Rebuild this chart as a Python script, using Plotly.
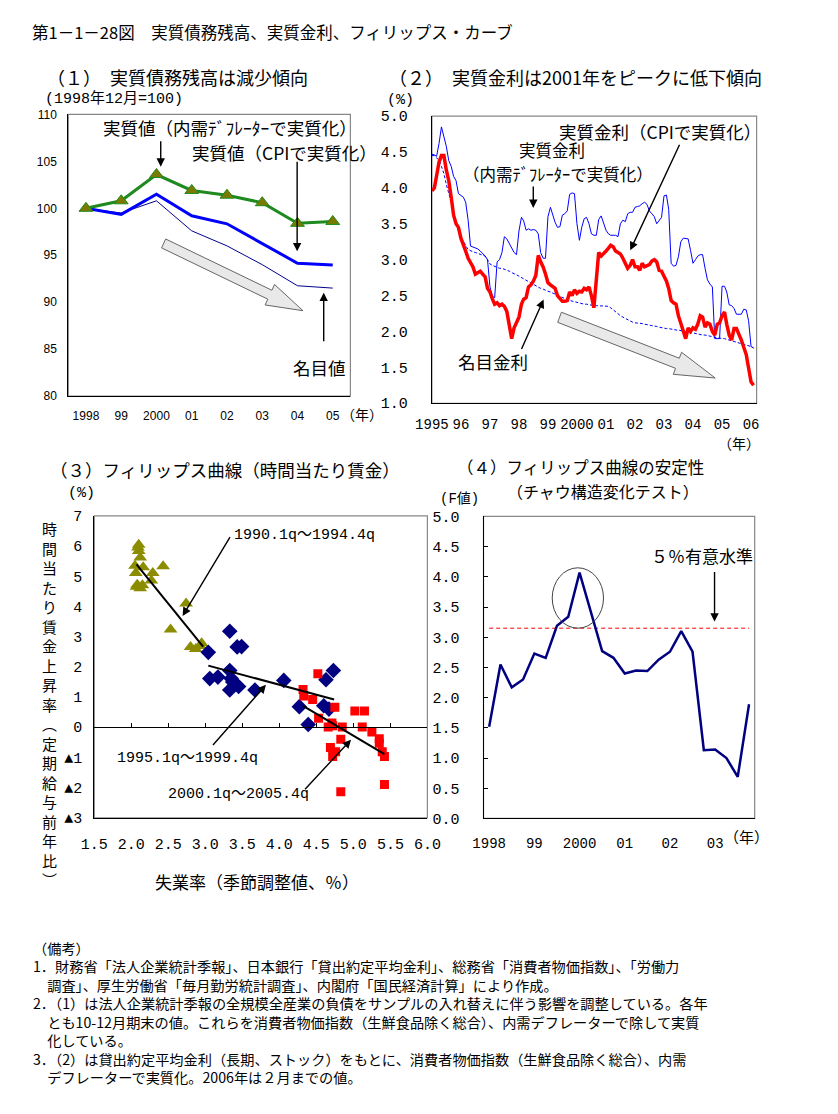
import math
import pandas as pd
import plotly.graph_objects as go

# The page body adds an 8px margin, so the figure is drawn 8px smaller and every
# reference pixel position is shifted by OFF.
OFF = 8
W, H = 838 - OFF, 1114 - OFF
JP = "Noto Sans CJK JP"
MONO = "Liberation Mono, Noto Sans CJK JP"
SANS = "Liberation Sans, Noto Sans CJK JP"

# ---------------- Panel 1: real debt outstanding (1998/12 = 100) ----------------
debt_years = ["1998", "99", "2000", "01", "02", "03", "04", "05"]
debt_deflator = [100.0, 100.8, 103.6, 101.9, 101.4, 100.6, 98.4, 98.6]
debt_cpi = [100.0, 99.35, 101.5, 99.2, 98.35, 96.25, 94.15, 93.95]
debt_nominal = [100.0, 99.5, 100.8, 97.6, 96.0, 94.0, 91.75, 91.5]

# ---------------- Panel 2: real interest rates (monthly, 1995/1 - 2006/2) -------
rate_start = "1995-01-01"
rate_cpi = [
    3.96, 4.00, 4.17, 4.36, 4.45, 4.45, 4.25, 4.10, 3.87, 3.62, 3.50, 3.45,
    3.30, 3.22, 3.12, 3.02, 2.95, 2.90, 2.80, 2.82, 2.84, 2.80, 2.76, 2.60,
    2.55, 2.45, 2.38, 2.40, 2.36, 2.38, 2.35, 2.28, 2.05, 1.90, 2.05, 2.12,
    2.20, 2.38, 2.45, 2.47, 2.62, 2.65, 2.70, 2.78, 3.06, 2.97, 2.90, 2.80,
    2.68, 2.65, 2.63, 2.60, 2.50, 2.45, 2.42, 2.42, 2.43, 2.55, 2.50, 2.58,
    2.53, 2.56, 2.55, 2.60, 2.58, 2.62, 2.50, 2.33, 2.70, 3.10, 3.05, 3.08,
    3.12, 3.16, 3.20, 3.18, 3.12, 3.10, 3.08, 3.02, 2.95, 2.88, 2.92, 3.00,
    2.90, 2.90, 2.85, 2.95, 2.90, 2.92, 2.93, 2.98, 3.00, 2.97, 2.85, 2.84,
    2.77, 2.70, 2.60, 2.43, 2.40, 2.38, 2.22, 2.10, 2.00, 1.90, 2.05, 2.00,
    2.05, 2.03, 2.10, 2.22, 2.20, 2.06, 2.12, 2.10, 2.00, 1.95, 2.10, 2.12,
    2.22, 2.27, 2.10, 1.95, 1.88, 2.04, 2.04, 1.97, 1.88, 1.78, 1.68, 1.49,
    1.30, 1.25,
]
rate_deflator = [
    4.47, 4.46, 4.44, 4.62, 4.85, 4.70, 4.58, 4.38, 4.30, 4.16, 4.10, 3.92,
    3.89, 3.87, 3.80, 3.55, 3.19, 3.18, 3.16, 3.15, 3.12, 3.09, 3.05, 3.00,
    2.62, 2.49, 2.47, 2.97, 3.00, 3.10, 3.32, 3.29, 3.23, 3.18, 3.10, 3.07,
    3.40, 3.59, 3.54, 3.41, 3.43, 3.41, 3.42, 3.41, 3.36, 3.10, 3.02, 3.02,
    3.60, 3.73, 3.62, 3.52, 3.45, 3.46, 3.62, 3.64, 3.68, 3.91, 3.93, 3.92,
    3.50, 3.27, 3.45, 3.57, 3.59, 3.50, 3.36, 3.34, 3.34, 3.56, 3.61, 3.52,
    3.41, 3.36, 3.34, 3.34, 3.34, 3.32, 3.50, 3.55, 3.53, 3.64, 3.66, 3.66,
    3.73, 3.74, 3.75, 3.78, 3.80, 3.77, 3.68, 3.64, 3.60, 3.50, 3.55, 3.59,
    3.89, 3.90, 3.70, 2.95, 2.91, 2.92, 3.04, 3.25, 3.30, 3.30, 3.29, 3.13,
    2.95, 3.00, 3.05, 3.07, 3.07, 2.88, 2.72, 2.66, 2.62, 1.90, 1.90, 1.90,
    2.63, 2.63, 2.55, 2.37, 2.36, 2.32, 2.24, 2.24, 2.24, 2.31, 2.30, 2.15,
    1.79, 1.77,
]
rate_nominal = [
    4.45, 4.45, 4.42, 4.38, 4.30, 4.20, 4.05, 3.92, 3.80, 3.62, 3.50, 3.40,
    3.32, 3.25, 3.20, 3.14, 3.12, 3.11, 3.10, 3.09, 3.07, 3.06, 3.05, 3.00,
    2.94, 2.92, 2.91, 2.90, 2.88, 2.88, 2.87, 2.86, 2.84, 2.82, 2.81, 2.79,
    2.77, 2.75, 2.74, 2.72, 2.70, 2.68, 2.66, 2.64, 2.62, 2.60, 2.59, 2.57,
    2.56, 2.55, 2.54, 2.52, 2.50, 2.49, 2.47, 2.46, 2.44, 2.43, 2.42, 2.41,
    2.40, 2.39, 2.39, 2.38, 2.38, 2.37, 2.37, 2.36, 2.36, 2.36, 2.36, 2.36,
    2.36, 2.35, 2.33, 2.30, 2.27, 2.24, 2.22, 2.20, 2.18, 2.16, 2.14, 2.13,
    2.12, 2.12, 2.11, 2.11, 2.10, 2.10, 2.09, 2.08, 2.08, 2.07, 2.06, 2.05,
    2.05, 2.04, 2.04, 2.03, 2.03, 2.02, 2.02, 2.01, 2.00, 2.00, 1.99, 1.98,
    1.98, 1.97, 1.97, 1.96, 1.95, 1.95, 1.94, 1.93, 1.93, 1.92, 1.91, 1.91,
    1.90, 1.90, 1.89, 1.88, 1.87, 1.86, 1.85, 1.84, 1.83, 1.82, 1.81, 1.80,
    1.79, 1.77,
]
rate_year_ticks = ["1995", "96", "97", "98", "99", "2000", "01", "02", "03", "04", "05", "06"]
rate_years = list(range(1995, 2007))

# ---------------- Panel 3: Phillips curve (hourly wages) ----------------
u_9094 = [2.10, 2.10, 2.12, 2.05, 2.16, 2.43, 2.06, 2.29, 2.27, 2.07, 2.15, 2.12, 2.74, 2.53, 2.80, 2.87, 2.93, 2.95, 2.09, 2.08]
w_9094 = [6.04, 5.84, 5.62, 5.35, 5.30, 5.33, 5.11, 5.11, 4.86, 4.65, 4.70, 4.60, 4.10, 3.24, 2.66, 2.59, 2.69, 2.78, 5.95, 4.72]
u_9599 = [3.04, 3.33, 3.43, 3.49, 3.33, 3.06, 3.17, 3.35, 3.40, 3.33, 3.45, 3.37, 3.67, 4.06, 4.27, 4.39, 4.63, 4.73, 4.60, 4.67]
w_9599 = [2.48, 3.18, 2.66, 2.67, 1.88, 1.61, 1.66, 1.61, 1.44, 1.23, 1.35, 1.50, 1.23, 1.55, 0.68, 0.09, 1.57, 1.88, 0.71, 0.60]
u_0005 = [4.52, 4.32, 4.33, 4.45, 4.75, 5.02, 5.15, 4.53, 4.66, 4.71, 4.85, 5.12, 5.25, 5.35, 5.35, 4.83, 4.69, 4.76, 4.72, 5.39, 5.42, 4.83, 5.42, 4.72]
w_0005 = [1.77, 1.25, 1.03, 0.92, 0.66, 0.54, 0.54, 0.30, 0.01, 0.14, 0.01, 0.01, -0.16, -0.38, -0.53, -0.40, -0.67, -0.81, -0.97, -0.81, -0.97, -2.14, -1.90, 0.05]
fit_9094_u, fit_9094_w = [2.07, 2.97], [5.39, 2.67]
fit_9599_u, fit_9599_w = [3.04, 4.74], [2.04, 0.92]
fit_0005_u, fit_0005_w = [4.32, 5.42], [0.71, -0.89]
wage_ticks = [-3, -2, -1, 0, 1, 2, 3, 4, 5, 6, 7]
wage_ticktext = ["▲3", "▲2", "▲1", "0", "1", "2", "3", "4", "5", "6", "7"]

# ---------------- Panel 4: Chow test F values (quarterly 1998Q1-2003Q4) ----------
f_years = [1998, 1999, 2000, 2001, 2002, 2003]
f_year_ticks = ["1998", "99", "2000", "01", "02", "03"]
f_quarters = [f"{y}Q{q}" for y in f_years for q in range(1, 5)]
f_values = [1.52, 2.55, 2.17, 2.30, 2.73, 2.66, 3.19, 3.34, 4.07, 3.42, 2.77, 2.66,
            2.40, 2.45, 2.44, 2.63, 2.76, 3.10, 2.76, 1.13, 1.14, 1.00, 0.69, 1.89]
f_critical = 3.15

# ---------------- notes ----------------
notes = [
    "（備考）",
    "1．財務省「法人企業統計季報」、日本銀行「貸出約定平均金利」、総務省「消費者物価指数」、「労働力",
    "　調査」、厚生労働省「毎月勤労統計調査」、内閣府「国民経済計算」により作成。",
    "2．（1）は法人企業統計季報の全規模全産業の負債をサンプルの入れ替えに伴う影響を調整している。各年",
    "　とも10-12月期末の値。これらを消費者物価指数（生鮮食品除く総合）、内需デフレーターで除して実質",
    "　化している。",
    "3．（2）は貸出約定平均金利（長期、ストック）をもとに、消費者物価指数（生鮮食品除く総合）、内需",
    "　デフレーターで実質化。2006年は２月までの値。",
]

# ---------------- helpers (positions given in page pixels) ----------------
def fx(px):
    return (px - OFF) / W

def fy(py):
    return 1 - (py - OFF) / H

def dom_x(a, b):
    return [fx(a), fx(b)]

def dom_y(top, bottom):
    return [fy(bottom), fy(top)]

P1 = dict(x=dom_x(53, 346), y=dom_y(109, 395))
P2 = dict(x=dom_x(430.7, 768), y=dom_y(110.7, 402.3))
P3 = dict(x=dom_x(80, 426), y=dom_y(516.7, 823.3))
P4 = dict(x=dom_x(484.3, 766), y=dom_y(517.3, 824))

annotations = []
shapes = []

def text(s, x, y, size=17, xanchor="left", family=JP, yanchor="middle"):
    annotations.append(dict(text=s, x=fx(x), y=fy(y), xref="paper", yref="paper",
                            showarrow=False, xanchor=xanchor, yanchor=yanchor, borderpad=0,
                            align="left", font=dict(size=size, family=family, color="black")))

def arrow(tail, head, width=1.4, size=1.2):
    annotations.append(dict(text="", x=fx(head[0]), y=fy(head[1]), xref="paper", yref="paper",
                            ax=tail[0] - head[0], ay=tail[1] - head[1], axref="pixel", ayref="pixel",
                            showarrow=True, arrowhead=2, arrowsize=size, arrowwidth=width,
                            arrowcolor="black", standoff=0, startstandoff=0))

def block_arrow(tail, tip, shaft_hw, head_hw, head_len):
    x0, y0 = tail
    x1, y1 = tip
    dx, dy = x1 - x0, y1 - y0
    L = math.hypot(dx, dy)
    ux, uy = dx / L, dy / L
    nx, ny = -uy, ux
    bx, by = x1 - ux * head_len, y1 - uy * head_len
    pts = [(x0 + nx * shaft_hw, y0 + ny * shaft_hw), (bx + nx * shaft_hw, by + ny * shaft_hw),
           (bx + nx * head_hw, by + ny * head_hw), (x1, y1),
           (bx - nx * head_hw, by - ny * head_hw), (bx - nx * shaft_hw, by - ny * shaft_hw),
           (x0 - nx * shaft_hw, y0 - ny * shaft_hw)]
    path = "M " + " L ".join(f"{fx(px):.5f},{fy(py):.5f}" for px, py in pts) + " Z"
    shapes.append(dict(type="path", path=path, xref="paper", yref="paper",
                       fillcolor="#e9e9e9", line=dict(color="#666666", width=1), layer="above"))

def frame(P):
    shapes.append(dict(type="rect", xref="paper", yref="paper", x0=P["x"][0], x1=P["x"][1],
                       y0=P["y"][0], y1=P["y"][1], line=dict(color="#888888", width=1.2),
                       fillcolor="rgba(0,0,0,0)", layer="below"))

for P in (P1, P2, P3, P4):
    frame(P)

fig = go.Figure()

# Panel 1 traces
fig.add_trace(go.Scatter(x=debt_years, y=debt_nominal, mode="lines", line=dict(color="#00008b", width=1),
                         xaxis="x", yaxis="y", showlegend=False))
fig.add_trace(go.Scatter(x=debt_years, y=debt_cpi, mode="lines", line=dict(color="#0000ff", width=3),
                         xaxis="x", yaxis="y", showlegend=False))
fig.add_trace(go.Scatter(x=debt_years, y=debt_deflator, mode="lines+markers",
                         line=dict(color="#1f8a1f", width=3),
                         marker=dict(symbol="triangle-up", size=12, color="#7a7a00",
                                     line=dict(color="#1f8a1f", width=1)),
                         xaxis="x", yaxis="y", showlegend=False))

# Panel 2 traces
months = pd.date_range(rate_start, periods=len(rate_cpi), freq="MS")
fig.add_trace(go.Scatter(x=months, y=rate_nominal, mode="lines",
                         line=dict(color="#0000ff", width=1, dash="3px,2px"),
                         xaxis="x2", yaxis="y2", showlegend=False))
fig.add_trace(go.Scatter(x=months, y=rate_deflator, mode="lines", line=dict(color="#0000ff", width=1),
                         xaxis="x2", yaxis="y2", showlegend=False))
fig.add_trace(go.Scatter(x=months, y=rate_cpi, mode="lines", line=dict(color="#ff0000", width=3.5),
                         xaxis="x2", yaxis="y2", showlegend=False))

# Panel 3 traces
fig.add_trace(go.Scatter(x=u_9094, y=w_9094, mode="markers",
                         marker=dict(symbol="triangle-up", size=12, color="#8c8c00"),
                         xaxis="x3", yaxis="y3", showlegend=False))
fig.add_trace(go.Scatter(x=u_9599, y=w_9599, mode="markers",
                         marker=dict(symbol="diamond", size=12, color="#000080"),
                         xaxis="x3", yaxis="y3", showlegend=False))
fig.add_trace(go.Scatter(x=u_0005, y=w_0005, mode="markers",
                         marker=dict(symbol="square", size=9, color="#ff0000"),
                         xaxis="x3", yaxis="y3", showlegend=False))
for fu, fw in ((fit_9094_u, fit_9094_w), (fit_9599_u, fit_9599_w), (fit_0005_u, fit_0005_w)):
    fig.add_trace(go.Scatter(x=fu, y=fw, mode="lines", line=dict(color="black", width=2),
                             xaxis="x3", yaxis="y3", showlegend=False))
fig.add_trace(go.Scatter(x=[], y=[], mode="lines", xaxis="x5", yaxis="y3", showlegend=False))

# Panel 4 traces
fig.add_trace(go.Scatter(x=f_quarters, y=[f_critical] * len(f_quarters), mode="lines",
                         line=dict(color="#ff0000", width=1, dash="4px,3px"),
                         xaxis="x4", yaxis="y4", showlegend=False))
fig.add_trace(go.Scatter(x=f_quarters, y=f_values, mode="lines", line=dict(color="#000080", width=2.5),
                         xaxis="x4", yaxis="y4", showlegend=False))

# circle around the 2000 peak
shapes.append(dict(type="circle", xref="x4", yref="y4", x0=5.58, x1=10.12, y0=3.15, y1=4.15,
                   line=dict(color="#444444", width=1)))

axis_common = dict(showgrid=False, zeroline=False, showline=True, linecolor="black", linewidth=1.2)

layout = dict(
    width=W, height=H, margin=dict(l=0, r=0, t=0, b=0),
    paper_bgcolor="white", plot_bgcolor="white", showlegend=False,
    xaxis=dict(domain=P1["x"], anchor="y", type="category", range=[-0.5, 7.5], ticks="",
               tickfont=dict(family=SANS, size=12, color="black"), ticklabelstandoff=8, **axis_common),
    yaxis=dict(domain=P1["y"], anchor="x", range=[80, 110], dtick=5, ticks="",
               tickfont=dict(family=SANS, size=12, color="black"), ticklabelstandoff=8, **axis_common),
    xaxis2=dict(domain=P2["x"], anchor="y2", type="date", range=["1995-01-01", "2006-03-12"],
                tickvals=[f"{y}-01-01" for y in rate_years], ticktext=rate_year_ticks, ticks="",
                tickfont=dict(family=MONO, size=14, color="black"), ticklabelstandoff=8, **axis_common),
    yaxis2=dict(domain=P2["y"], anchor="x2", range=[1.0, 5.0], dtick=0.5, tickformat=".1f", ticks="",
                tickfont=dict(family=MONO, size=15, color="black"), ticklabelstandoff=20, **axis_common),
    xaxis3=dict(domain=P3["x"], anchor="y3", range=[1.5, 6.0], dtick=0.5, tick0=1.5, tickformat=".1f",
                ticks="", tickfont=dict(family=MONO, size=15, color="black"), ticklabelstandoff=12,
                **axis_common),
    yaxis3=dict(domain=P3["y"], anchor="x3", range=[-3, 7], tickvals=wage_ticks, ticktext=wage_ticktext,
                ticks="", tickfont=dict(family=MONO, size=15, color="black"), ticklabelstandoff=8,
                **axis_common),
    xaxis5=dict(overlaying="x3", anchor="free", position=P3["y"][0] + 0.3 * (P3["y"][1] - P3["y"][0]),
                range=[1.5, 6.0], dtick=0.5, tick0=1.5, ticks="inside", ticklen=4, tickcolor="black",
                showticklabels=False, showgrid=False, zeroline=False, showline=True,
                linecolor="black", linewidth=1.2),
    xaxis4=dict(domain=P4["x"], anchor="y4", type="category", range=[-0.5, 23.5],
                tickvals=[f"{y}Q1" for y in f_years], ticktext=f_year_ticks, ticks="",
                tickfont=dict(family=MONO, size=14, color="black"), ticklabelstandoff=12, **axis_common),
    yaxis4=dict(domain=P4["y"], anchor="x4", range=[0, 5], dtick=0.5, tickformat=".1f",
                ticks="inside", ticklen=4, tickcolor="black",
                tickfont=dict(family=MONO, size=15, color="black"), ticklabelstandoff=20, **axis_common),
)

# ---------------- texts ----------------
text("第1－1－28図　実質債務残高、実質金利、フィリップス・カーブ", 14, 25, size=16.5)

# Panel 1
text("（１）　実質債務残高は減少傾向", 30, 71, size=18)
text("(1998年12月=100)", 28, 93, size=15, family=MONO)
text("実質値（内需ﾃﾞﾌﾚｰﾀｰで実質化）", 88, 122, size=17.5)
arrow((149, 135), (149, 162))
text("実質値（CPIで実質化）", 180, 148, size=17.5)
arrow((290.7, 157), (290.7, 248))
text("名目値", 314, 366, size=17.5, xanchor="center")
arrow((318.3, 340), (318.3, 290))
block_arrow((152, 240), (296.7, 308.3), 5, 11.5, 38)
text("（年）", 358, 413, size=14, xanchor="center")

# Panel 2
text("（２）　実質金利は2001年をピークに低下傾向", 385, 71, size=18)
text("(%)", 398, 95, size=15, family=MONO, xanchor="center")
text("実質金利（CPIで実質化）", 562, 126, size=17.5)
arrow((686.7, 140), (636.7, 247))
text("実質金利", 555, 145.5, size=16.5, xanchor="center")
text("（内需ﾃﾞﾌﾚｰﾀｰで実質化）", 462, 169, size=16.5)
arrow((536, 181), (536, 204))
text("名目金利", 457, 360, size=17.5)
arrow((524, 348), (546.7, 297))
block_arrow((563.3, 315), (725, 376.7), 5.5, 12, 42)
text("（年）", 750, 443, size=14, xanchor="center")

# Panel 3
text("（３）フィリップス曲線（時間当たり賃金）", 33, 470, size=17.5)
text("(%)", 67, 494, size=15, family=MONO, xanchor="center")
ytitle = "<br>".join(list("時間当たり賃金上昇率︵定期給与前年比︶"))
annotations.append(dict(text=ytitle, x=fx(33), y=fy(708), xref="paper", yref="paper",
                        showarrow=False, xanchor="center", yanchor="middle",
                        font=dict(size=15, family=JP, color="black")))
text("1990.1q～1994.4q", 224, 537, size=15, family=MONO)
arrow((220, 538), (171.7, 618.3))
text("1995.1q～1999.4q", 103, 763, size=15, family=MONO)
arrow((204, 750), (258.3, 688.3))
text("2000.1q～2005.4q", 155, 800, size=15, family=MONO)
arrow((299.3, 795), (346.7, 744))
text("失業率（季節調整値、％）", 249, 888, size=17, xanchor="center")

# Panel 4
text("（４）フィリップス曲線の安定性", 456, 467, size=16.5)
text("（チャウ構造変化テスト）", 608, 491, size=16, xanchor="center")
text("(F値)", 459, 500, size=14, family=MONO, xanchor="center")
text("５％有意水準", 711, 557, size=17, xanchor="center")
arrow((724.3, 573), (724.3, 624))
text("（年）", 757, 842, size=15, xanchor="center")

# Notes (one text block, 18px line pitch as in the reference)
text("<br>".join(notes), 15, 944, size=14.2, yanchor="top")

layout["annotations"] = annotations
layout["shapes"] = shapes
fig.update_layout(**layout)
fig.write_html("out.html")
